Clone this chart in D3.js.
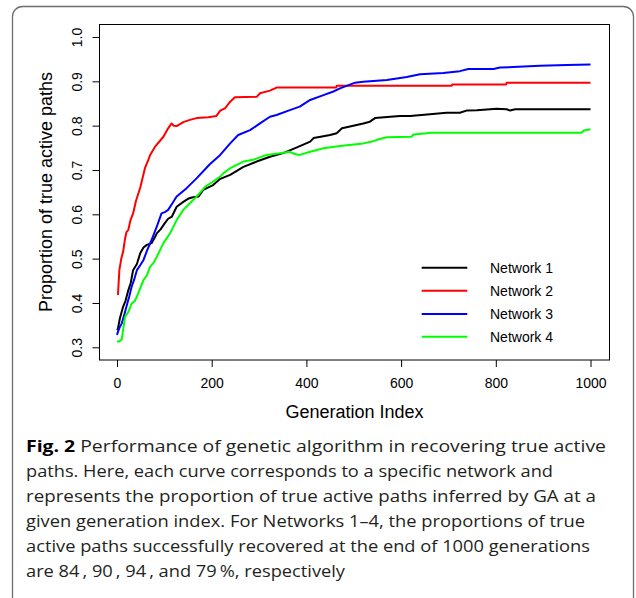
<!DOCTYPE html>
<html><head><meta charset="utf-8">
<script src="https://cdn.jsdelivr.net/npm/d3@7"></script>
<style>body{margin:0;background:#fff}</style>
</head><body>
<svg id="chart" width="636" height="598"></svg>
<script>
// ---------- data ----------
const seriesNames = ["Network 1", "Network 2", "Network 3", "Network 4"];
const seriesColors = ["#000000", "#ff0000", "#0000ff", "#00ff00"];

const gensNet1 = [0, 2, 6, 13, 18, 24, 29, 34, 42, 49, 56, 63, 73, 80, 84, 92, 101, 108, 116, 126, 140, 150, 158, 172, 182, 203, 218, 239, 267, 295, 323, 351, 380, 408, 415, 436, 450, 464, 475, 492, 520, 534, 545, 577, 598, 619, 661, 696, 724, 738, 760, 802, 823, 830, 841, 1000];
const valsNet1 = [0.339, 0.342, 0.365, 0.392, 0.405, 0.429, 0.445, 0.474, 0.488, 0.512, 0.525, 0.531, 0.535, 0.548, 0.557, 0.566, 0.580, 0.590, 0.595, 0.617, 0.628, 0.635, 0.638, 0.640, 0.655, 0.666, 0.680, 0.689, 0.707, 0.719, 0.730, 0.738, 0.751, 0.764, 0.772, 0.776, 0.779, 0.783, 0.794, 0.798, 0.805, 0.809, 0.817, 0.820, 0.822, 0.822, 0.826, 0.829, 0.829, 0.834, 0.835, 0.838, 0.837, 0.834, 0.837, 0.837];

const gensNet2 = [2, 5, 9, 13, 17, 20, 24, 28, 34, 40, 49, 59, 66, 70, 80, 98, 108, 115, 120, 126, 140, 154, 168, 193, 210, 218, 228, 239, 249, 295, 302, 323, 337, 463, 464, 707, 708, 822, 823, 1000];
const valsNet2 = [0.418, 0.474, 0.500, 0.516, 0.545, 0.560, 0.565, 0.585, 0.602, 0.630, 0.660, 0.704, 0.722, 0.734, 0.752, 0.775, 0.794, 0.805, 0.800, 0.799, 0.808, 0.813, 0.817, 0.819, 0.822, 0.834, 0.839, 0.854, 0.864, 0.865, 0.873, 0.879, 0.886, 0.886, 0.890, 0.890, 0.893, 0.893, 0.897, 0.897];

const gensNet3 = [0, 2, 6, 10, 15, 20, 26, 31, 36, 42, 49, 56, 64, 73, 84, 94, 101, 108, 117, 126, 147, 168, 196, 218, 239, 256, 281, 302, 323, 337, 365, 386, 408, 436, 457, 471, 503, 520, 570, 612, 640, 689, 724, 742, 795, 809, 893, 950, 1000];
const valsNet3 = [0.328, 0.335, 0.346, 0.354, 0.372, 0.392, 0.415, 0.437, 0.452, 0.474, 0.485, 0.497, 0.520, 0.542, 0.572, 0.602, 0.605, 0.610, 0.625, 0.640, 0.659, 0.681, 0.713, 0.734, 0.760, 0.779, 0.790, 0.805, 0.820, 0.824, 0.835, 0.843, 0.858, 0.869, 0.877, 0.884, 0.897, 0.899, 0.903, 0.910, 0.916, 0.919, 0.923, 0.928, 0.928, 0.931, 0.935, 0.937, 0.938];

const gensNet4 = [0, 5, 10, 17, 24, 31, 38, 45, 56, 63, 70, 77, 84, 98, 112, 126, 140, 154, 168, 186, 203, 218, 225, 239, 267, 288, 316, 344, 365, 375, 386, 408, 436, 471, 485, 520, 541, 555, 570, 622, 626, 654, 660, 981, 986, 1000];
const valsNet4 = [0.313, 0.313, 0.318, 0.369, 0.380, 0.399, 0.405, 0.422, 0.452, 0.462, 0.482, 0.490, 0.504, 0.535, 0.557, 0.587, 0.610, 0.625, 0.640, 0.662, 0.674, 0.685, 0.693, 0.704, 0.719, 0.723, 0.734, 0.738, 0.741, 0.736, 0.734, 0.741, 0.749, 0.754, 0.756, 0.760, 0.765, 0.770, 0.774, 0.775, 0.780, 0.783, 0.784, 0.784, 0.789, 0.792];

const xTicks = [0, 200, 400, 600, 800, 1000];
const yTicks = [0.3, 0.4, 0.5, 0.6, 0.7, 0.8, 0.9, 1.0];
const xTitle = "Generation Index";
const yTitle = "Proportion of true active paths";

const captionBold = "Fig. 2";
const captionLines = [
  " Performance of genetic algorithm in recovering true active",
  "paths. Here, each curve corresponds to a specific network and",
  "represents the proportion of true active paths inferred by GA at a",
  "given generation index. For Networks 1\u20134, the proportions of true",
  "active paths successfully recovered at the end of 1000 generations",
  "are 84\u2009, 90\u2009, 94\u2009, and 79\u2009%, respectively"
];

// ---------- drawing ----------
const svg = d3.select("#chart");
const font = "'Liberation Sans', Arial, Helvetica, sans-serif";

// outer frame
svg.append("rect")
  .attr("x", 12.5).attr("y", 6.5).attr("width", 621).attr("height", 640)
  .attr("rx", 10).attr("ry", 10)
  .attr("fill", "none").attr("stroke", "#6d6d6d").attr("stroke-width", 1.3);

const box = {left: 99.5, top: 24.5, right: 609.5, bottom: 360};
const x = d3.scaleLinear().domain([0, 1000]).range([117, 590.5]);
const y = d3.scaleLinear().domain([0.3, 1.0]).range([347.3, 37]);

// x axis
const gx = svg.append("g").attr("transform", `translate(0,${box.bottom})`)
  .call(d3.axisBottom(x).tickValues(xTicks).tickSize(7).tickFormat(d3.format("d")));
gx.select(".domain").remove();
gx.selectAll(".tick line").attr("stroke", "#000");
gx.selectAll(".tick text").attr("y", 28).attr("dy", 0)
  .attr("font-family", font).attr("font-size", 14).attr("fill", "#000");

// y axis
const gy = svg.append("g").attr("transform", `translate(${box.left},0)`)
  .call(d3.axisLeft(y).tickValues(yTicks).tickSize(7).tickFormat(d3.format(".1f")));
gy.select(".domain").remove();
gy.selectAll(".tick line").attr("stroke", "#000");
gy.selectAll(".tick text")
  .attr("x", 0).attr("dy", 0).attr("text-anchor", "middle")
  .attr("transform", "translate(-17.8,0) rotate(-90)")
  .attr("font-family", font).attr("font-size", 14).attr("fill", "#000");

// box
svg.append("rect")
  .attr("x", box.left).attr("y", box.top)
  .attr("width", box.right - box.left).attr("height", box.bottom - box.top)
  .attr("fill", "none").attr("stroke", "#000").attr("stroke-width", 1);

// titles
svg.append("text").attr("x", 354.5).attr("y", 418)
  .attr("text-anchor", "middle").attr("font-family", font).attr("font-size", 18)
  .text(xTitle);
svg.append("text").attr("transform", "translate(51.5,192) rotate(-90)")
  .attr("text-anchor", "middle").attr("font-family", font).attr("font-size", 18)
  .text(yTitle);

// lines
const seriesGens = [gensNet1, gensNet2, gensNet3, gensNet4];
const seriesVals = [valsNet1, valsNet2, valsNet3, valsNet4];
const line = d3.line().x(d => x(d[0])).y(d => y(d[1]));
svg.append("clipPath").attr("id", "plotclip").append("rect")
  .attr("x", box.left).attr("y", box.top).attr("width", box.right - box.left).attr("height", box.bottom - box.top);
seriesGens.forEach((g, i) => {
  const pts = g.map((gv, j) => [gv, seriesVals[i][j]]);
  svg.append("path").datum(pts)
    .attr("d", line)
    .attr("fill", "none")
    .attr("stroke", seriesColors[i])
    .attr("stroke-width", 2)
    .attr("stroke-linejoin", "round")
    .attr("clip-path", "url(#plotclip)");
});

// legend
const legY = [267.7, 290.7, 314, 336.7];
seriesNames.forEach((n, i) => {
  svg.append("line").attr("x1", 421.7).attr("x2", 467.3)
    .attr("y1", legY[i]).attr("y2", legY[i])
    .attr("stroke", seriesColors[i]).attr("stroke-width", 2);
  svg.append("text").attr("x", 490).attr("y", legY[i] + 5)
    .attr("font-family", font).attr("font-size", 14).text(n);
});

// caption
const capFont = "'Open Sans', 'Noto Sans', sans-serif";
const capX = 26;
const capBase = [451.5, 476.5, 501.5, 526.5, 551.5, 576.5];
const capEnd = [606, 553, 596, 585, 590, 345];
captionLines.forEach((t, i) => {
  const tx = svg.append("text").attr("x", capX).attr("y", capBase[i])
    .attr("font-family", capFont).attr("font-size", 16.5).attr("font-weight", 400)
    .attr("fill", "#231f20")
    .attr("textLength", capEnd[i] - capX).attr("lengthAdjust", "spacingAndGlyphs");
  if (i === 0) {
    tx.append("tspan").attr("font-weight", 700).attr("fill", "#000").text(captionBold);
  }
  tx.append("tspan").text(t);
});
</script>
</body></html>
